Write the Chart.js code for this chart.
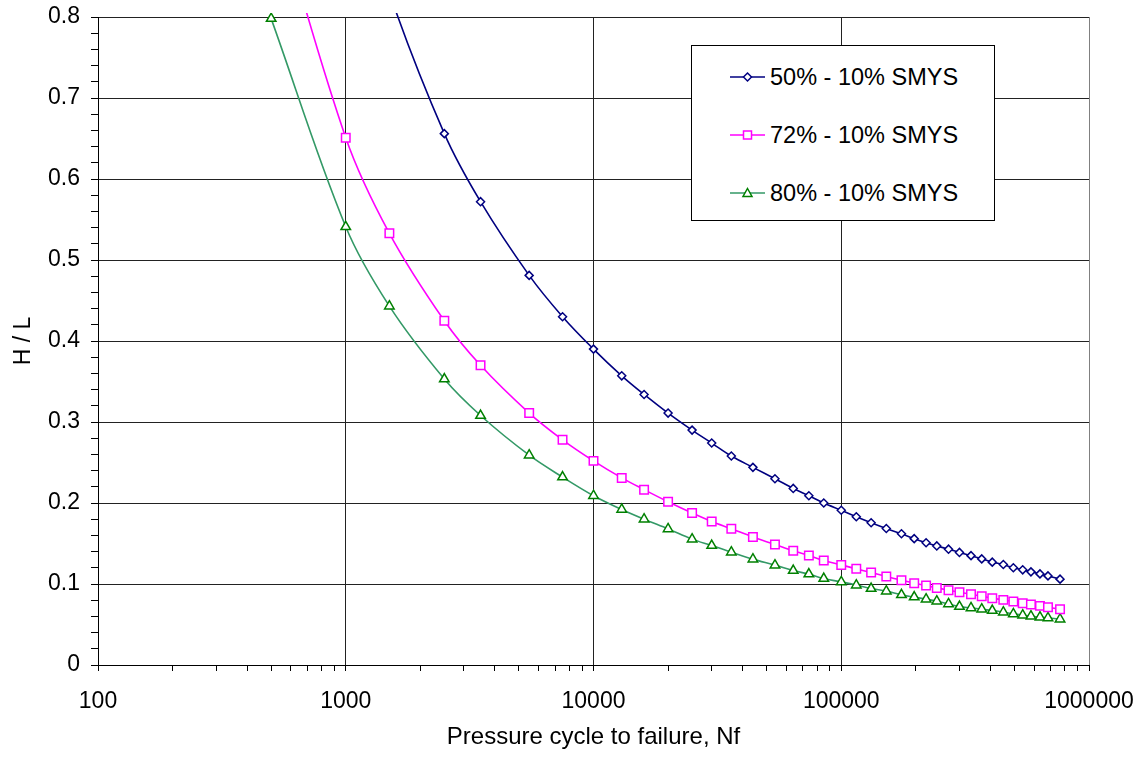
<!DOCTYPE html>
<html>
<head>
<meta charset="utf-8">
<script src="https://cdn.jsdelivr.net/npm/chart.js@4/dist/chart.umd.min.js"></script>
<style>
  html, body { margin: 0; padding: 0; background: #fff; }
  #wrap { position: relative; width: 1142px; height: 757px; }
  #legend {
    position: absolute; left: 691px; top: 45px; width: 302px; height: 174px;
    border: 1px solid #000; background: #fff;
    font-family: 'Liberation Sans', Arial, sans-serif; font-size: 23.5px; color: #000;
  }
  .item { position: absolute; left: 38px; height: 30px; display: flex; align-items: center; }
  .item svg { display: block; margin-right: 5px; }
</style>
</head>
<body>
<div id="wrap">
  <canvas id="c" width="1142" height="757"></canvas>
  <div id="legend"></div>
</div>
<script>
// ---- data ----
const cycles = [500, 1000, 1500, 2500, 3500, 5500, 7500, 10000, 13000, 16000, 20000,
  25000, 30000, 36000, 44000, 54000, 64000, 74000, 85000, 100000,
  115000, 132000, 152000, 175000, 197000, 220000, 243000, 271000, 300000, 334000,
  369000, 407000, 451000, 495000, 540000, 583000, 634000, 683000, 764000];

const seriesNames = ['50% - 10% SMYS', '72% - 10% SMYS', '80% - 10% SMYS'];

const hl50 = [null, 1.01, 0.83, 0.656, 0.572, 0.481, 0.430, 0.390, 0.357, 0.334, 0.311,
  0.290, 0.274, 0.258, 0.244, 0.230, 0.218, 0.209, 0.200, 0.191,
  0.183, 0.1756, 0.1685, 0.162, 0.156, 0.151, 0.147, 0.143, 0.139, 0.135,
  0.131, 0.127, 0.124, 0.120, 0.1175, 0.115, 0.1125, 0.110, 0.106];

const hl72 = [0.955, 0.651, 0.533, 0.425, 0.370, 0.311, 0.278, 0.252, 0.231, 0.2165, 0.2015,
  0.1876, 0.1772, 0.1682, 0.158, 0.1488, 0.141, 0.1352, 0.129, 0.1236,
  0.1187, 0.1141, 0.1092, 0.1047, 0.101, 0.0981, 0.0952, 0.0924, 0.0899, 0.0874,
  0.085, 0.0825, 0.0804, 0.0783, 0.0763, 0.0746, 0.073, 0.0714, 0.0689];

const hl80 = [0.798, 0.541, 0.443, 0.353, 0.308, 0.259, 0.232, 0.209, 0.192, 0.180, 0.168,
  0.1554, 0.1475, 0.1393, 0.1307, 0.1233, 0.1166, 0.1122, 0.1067, 0.1026,
  0.0986, 0.0944, 0.0912, 0.0866, 0.0838, 0.0813, 0.0788, 0.0754, 0.0721, 0.0705,
  0.0689, 0.0672, 0.0652, 0.0631, 0.0615, 0.0603, 0.059, 0.0581, 0.0565];

const xTickValues = [100, 1000, 10000, 100000, 1000000];
const yTickValues = [0, 0.1, 0.2, 0.3, 0.4, 0.5, 0.6, 0.7, 0.8];

const xTitle = 'Pressure cycle to failure, Nf';
const yTitle = 'H / L';

// ---- styles ----
const styles = [
  { line: '#000080', point: '#000080', shape: 'rectRot', r: 4 },
  { line: '#FF00FF', point: '#FF00FF', shape: 'rect', r: 6 },
  { line: '#339966', point: '#008000', shape: 'triangle', r: 5.5 }
];
const FONT = "'Liberation Sans', Arial, sans-serif";
Chart.defaults.font.family = FONT;
Chart.defaults.color = '#000';

function toPoints(vals) {
  const out = [];
  vals.forEach((v, i) => { if (v !== null) out.push({ x: cycles[i], y: v }); });
  return out;
}
const allSeries = [hl50, hl72, hl80];

const datasets = allSeries.map((vals, i) => ({
  label: seriesNames[i],
  data: toPoints(vals),
  showLine: true,
  borderColor: styles[i].line,
  borderWidth: 1.6,
  tension: 0.35,
  pointStyle: styles[i].shape,
  pointRadius: styles[i].r,
  pointHoverRadius: styles[i].r,
  pointBorderColor: styles[i].point,
  pointBackgroundColor: '#fff',
  pointBorderWidth: 1.5,
  clip: { left: 10, top: 4, right: 10, bottom: 10 }
}));

function isDecade(v) {
  const l = Math.log10(v);
  return Math.abs(l - Math.round(l)) < 1e-9;
}
function isTenth(v) {
  return Math.abs(v * 10 - Math.round(v * 10)) < 1e-6;
}

new Chart(document.getElementById('c'), {
  type: 'scatter',
  data: { datasets },
  options: {
    responsive: false,
    animation: false,
    devicePixelRatio: 1,
    layout: { padding: { left: 0, top: 17, right: 53, bottom: 0 } },
    plugins: { legend: { display: false }, tooltip: { enabled: false } },
    events: [],
    scales: {
      x: {
        type: 'logarithmic',
        min: 100,
        max: 1000000,
        afterBuildTicks: (s) => {
          const t = [];
          for (let e = 2; e < 6; e++) {
            for (let m = 1; m < 10; m++) t.push({ value: m * Math.pow(10, e), major: m === 1 });
          }
          t.push({ value: 1000000, major: true });
          s.ticks = t;
        },
        afterFit: (s) => { s.height = 92; s.paddingLeft = 0; s.paddingRight = 0; },
        ticks: {
          autoSkip: false,
          maxRotation: 0,
          padding: 17,
          font: { size: 23 },
          color: '#000',
          callback: (v) => (xTickValues.includes(v) ? String(v) : '')
        },
        grid: {
          color: (ctx) => {
            const v = ctx.tick ? ctx.tick.value : 0;
            if (v === 1000000) return '#808080';
            return isDecade(v) ? '#222' : 'rgba(0,0,0,0)';
          },
          lineWidth: 1,
          tickColor: '#000',
          tickLength: 6,
          drawTicks: true
        },
        border: { color: '#000', width: 1 },
        title: {
          display: true, text: xTitle,
          font: { size: 24 }, color: '#000',
          padding: { top: 0, bottom: 5 }
        }
      },
      y: {
        type: 'linear',
        min: 0,
        max: 0.8,
        afterFit: (s) => { s.width = 98; s.paddingTop = 0; s.paddingBottom = 0; },
        ticks: {
          stepSize: 0.02,
          autoSkip: false,
          padding: 11,
          font: { size: 23 },
          color: '#000',
          callback: (v) => {
            if (!isTenth(v)) return '';
            const r = Math.round(v * 10) / 10;
            return yTickValues.includes(r) ? String(r) : '';
          }
        },
        grid: {
          color: (ctx) => {
            const v = ctx.tick ? ctx.tick.value : 0;
            return isTenth(v) ? '#222' : 'rgba(0,0,0,0)';
          },
          lineWidth: 1,
          tickColor: '#000',
          tickLength: 7
        },
        border: { color: '#000', width: 1 },
        title: {
          display: true, text: yTitle,
          font: { size: 23 }, color: '#000',
          padding: { top: 10, bottom: 0 }
        }
      }
    }
  }
});

// ---- HTML legend (real text) ----
const legend = document.getElementById('legend');
const rowsY = [16, 74, 132];
seriesNames.forEach((name, i) => {
  const st = styles[i];
  let marker = '';
  if (st.shape === 'rectRot') marker = '<polygon points="17.5,11 21.5,15 17.5,19 13.5,15" fill="#fff" stroke="' + st.point + '" stroke-width="1.5"/>';
  if (st.shape === 'rect') marker = '<rect x="13.5" y="11" width="8" height="8" fill="#fff" stroke="' + st.point + '" stroke-width="1.5"/>';
  if (st.shape === 'triangle') marker = '<polygon points="17.5,10.5 22,18.5 13,18.5" fill="#fff" stroke="' + st.point + '" stroke-width="1.5"/>';
  const div = document.createElement('div');
  div.className = 'item';
  div.style.top = rowsY[i] + 'px';
  div.innerHTML = '<svg width="35" height="30"><line x1="0" y1="15" x2="35" y2="15" stroke="' + st.line + '" stroke-width="1.6"/>' + marker + '</svg><span>' + name + '</span>';
  legend.appendChild(div);
});
</script>
</body>
</html>
